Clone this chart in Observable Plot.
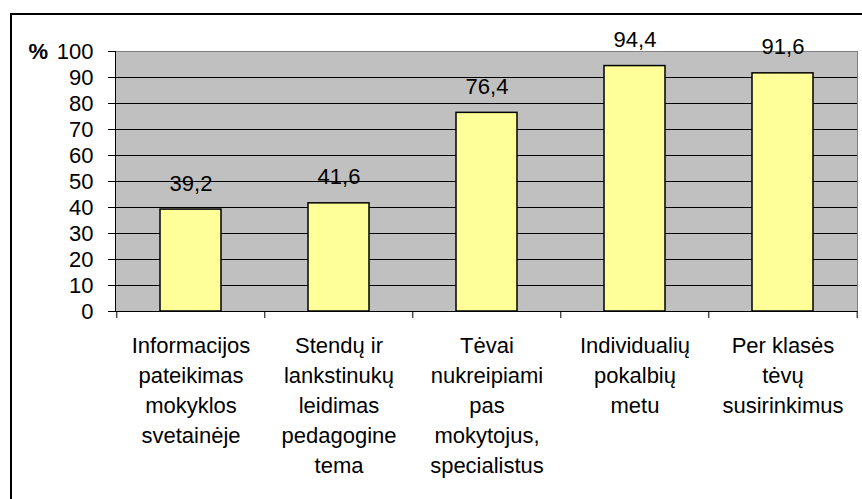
<!DOCTYPE html>
<html>
<head>
<meta charset="utf-8">
<script src="https://cdn.jsdelivr.net/npm/d3@7"></script>
<script src="https://cdn.jsdelivr.net/npm/@observablehq/plot@0.6"></script>
<style>
  html, body { margin: 0; padding: 0; background: #fff; overflow: hidden; width: 862px; height: 499px; }
  #wrap { position: relative; width: 862px; height: 499px; }
  #border { position: absolute; left: 10px; top: 13px; width: 900px; height: 600px; border: 2px solid #000; box-sizing: border-box; pointer-events: none; z-index: 2; }
  #chart { position: absolute; left: 0; top: 0; z-index: 1; }
</style>
</head>
<body>
<div id="wrap"><div id="border"></div><div id="chart"></div></div>
<script>
const categories = [
  "Informacijos\npateikimas\nmokyklos\nsvetainėje",
  "Stendų ir\nlankstinukų\nleidimas\npedagogine\ntema",
  "Tėvai\nnukreipiami\npas\nmokytojus,\nspecialistus",
  "Individualių\npokalbių\nmetu",
  "Per klasės\ntėvų\nsusirinkimus"
];
const values = [39.2, 41.6, 76.4, 94.4, 91.6];
const valueLabels = ["39,2", "41,6", "76,4", "94,4", "91,6"];
const yTicks = [0, 10, 20, 30, 40, 50, 60, 70, 80, 90, 100];
const gridTicks = [10, 20, 30, 40, 50, 60, 70, 80, 90];
const axisTitle = "%";

const data = categories.map((c, i) => ({cat: c, value: values[i], label: valueLabels[i]}));

const W = 862, H = 499;
const mL = 115, mR = 5, mT = 51, mB = 188;
const step = (W - mL - mR) / categories.length;
const fs = 22;

const chart = Plot.plot({
  width: W,
  height: H,
  marginLeft: mL,
  marginRight: mR,
  marginTop: mT,
  marginBottom: mB,
  style: {fontFamily: "Arial, 'Liberation Sans', sans-serif", fontSize: fs + "px", color: "black", background: "transparent"},
  x: {domain: categories, paddingInner: 0.59, paddingOuter: 0.295},
  y: {domain: [0, 100]},
  marks: [
    Plot.frame({fill: "#c0c0c0", stroke: "#808080"}),
    Plot.ruleY(gridTicks, {stroke: "black", strokeWidth: 1}),
    Plot.ruleY([0], {stroke: "black", strokeWidth: 1}),
    Plot.frame({anchor: "left", stroke: "black"}),
    Plot.barY(data, {x: "cat", y: "value", fill: "#ffff99", stroke: "black", strokeWidth: 1.5}),
    Plot.text(data, {x: "cat", y: "value", text: "label", dy: -26, fontSize: fs, fill: "black"}),
    Plot.axisY({ticks: yTicks, tickSize: 7, tickPadding: 15, fontSize: fs, label: null, stroke: "black"}),
    Plot.axisX({tickSize: 7, tickFormat: () => "", dx: -step / 2, label: null, stroke: "black"}),
    Plot.axisX({ticks: [categories[categories.length - 1]], tickSize: 7, tickFormat: () => "", dx: step / 2, label: null, stroke: "black"}),
    Plot.text(data, {x: "cat", y: 0, text: "cat", lineAnchor: "top", dy: 20, lineHeight: 30 / fs, fontSize: fs, fill: "black"}),
    Plot.text([axisTitle], {text: d => d, frameAnchor: "top-left", textAnchor: "start", dx: -87, dy: -8, fontWeight: "bold", fontSize: fs, fill: "black"})
  ]
});
document.getElementById("chart").appendChild(chart);
</script>
</body>
</html>
